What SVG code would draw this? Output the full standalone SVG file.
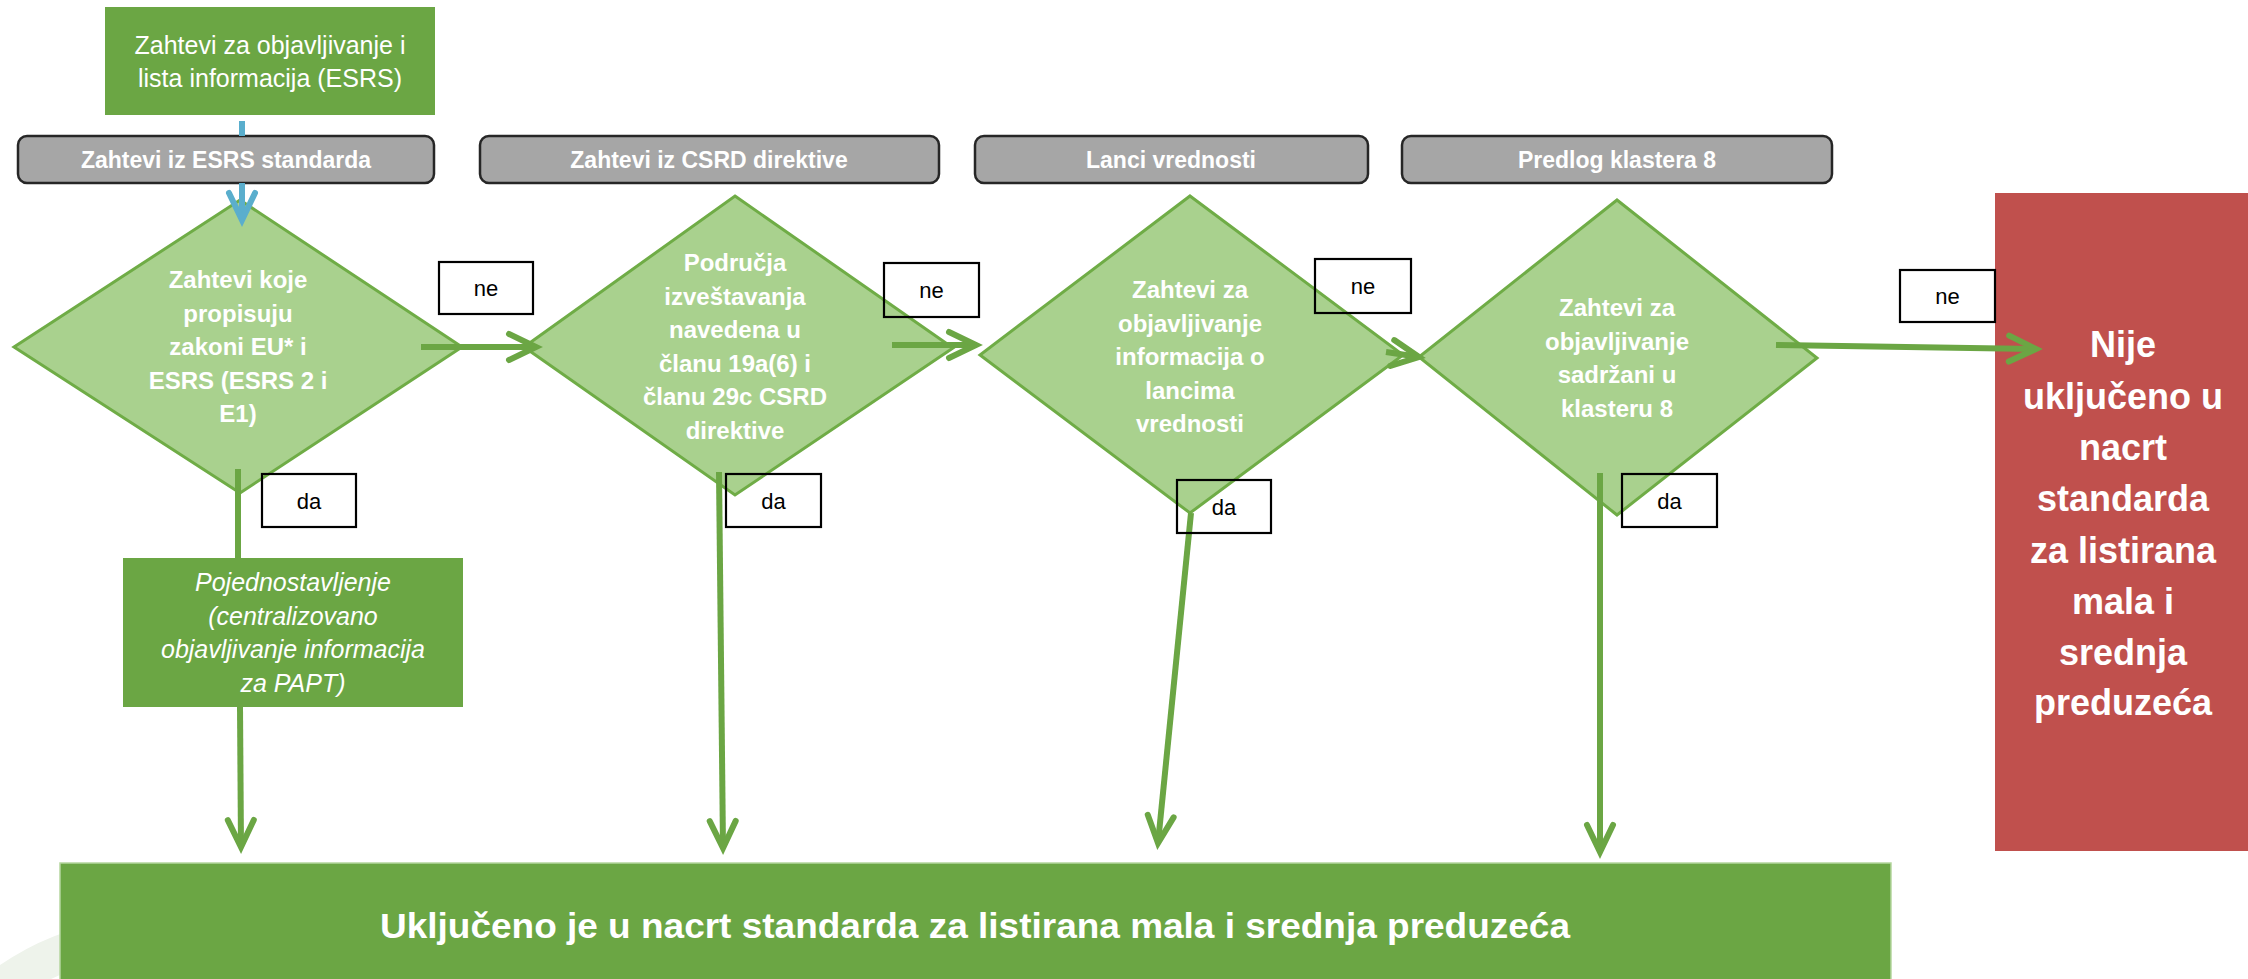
<svg xmlns="http://www.w3.org/2000/svg" width="2248" height="979" viewBox="0 0 2248 979">
  <style>
    .hdr { fill: #A6A6A6; stroke: #262626; stroke-width: 2.5; }
    .hdrt { font-family: "Liberation Sans", Arial, sans-serif; font-weight: bold; font-size: 23px; fill: #FFFFFF; text-anchor: middle; }
    .dia { fill: #A9D18E; stroke: #6FAC46; stroke-width: 3; }
    .diat { font-family: "Liberation Sans", Arial, sans-serif; font-weight: bold; font-size: 24px; fill: #FFFFFF; text-anchor: middle; }
    .gbox { fill: #6BA644; }
    .lbl { fill: none; stroke: #000000; stroke-width: 2.2; }
    .lblt { font-family: "Liberation Sans", Arial, sans-serif; font-size: 22px; fill: #000000; text-anchor: middle; }
    .con { fill: none; stroke: #6BA644; stroke-width: 6; marker-end: url(#ah); }
    .conp { fill: none; stroke: #6BA644; stroke-width: 6; }
    .blue { fill: none; stroke: #5AAECD; stroke-width: 6; }
  </style>
  <defs>
    <marker id="ah" markerUnits="userSpaceOnUse" markerWidth="50" markerHeight="50" viewBox="-40 -25 50 50" refX="0" refY="0" orient="auto" overflow="visible">
      <path d="M-27,-13 L0,0 L-27,13" fill="none" stroke="#6BA644" stroke-width="6" stroke-linecap="round" stroke-linejoin="miter"/>
    </marker>
    <marker id="ahb" markerUnits="userSpaceOnUse" markerWidth="50" markerHeight="50" viewBox="-40 -25 50 50" refX="0" refY="0" orient="auto" overflow="visible">
      <path d="M-27,-13 L0,0 L-27,13" fill="none" stroke="#5AAECD" stroke-width="6" stroke-linecap="round" stroke-linejoin="miter"/>
    </marker>
  </defs>

  <rect x="0" y="0" width="2248" height="979" fill="#FFFFFF"/>

  <!-- faint background ring -->
  <circle cx="150" cy="1180" r="243" fill="none" stroke="#EEF3EB" stroke-width="38"/>

  <g id="node-source">
    <rect class="gbox" x="105" y="7" width="330" height="108"/>
    <text x="270" y="54" font-family="Liberation Sans, Arial, sans-serif" font-size="25" fill="#FFFFFF" text-anchor="middle">Zahtevi za objavljivanje i</text>
    <text x="270" y="87" font-family="Liberation Sans, Arial, sans-serif" font-size="25" fill="#FFFFFF" text-anchor="middle">lista informacija (ESRS)</text>
  </g>

  <g id="header-esrs">
    <rect class="hdr" x="18" y="136" width="416" height="47" rx="9"/>
    <text class="hdrt" x="226" y="168">Zahtevi iz ESRS standarda</text>
  </g>
  <g id="header-csrd">
    <rect class="hdr" x="480" y="136" width="459" height="47" rx="9"/>
    <text class="hdrt" x="709" y="168">Zahtevi iz CSRD direktive</text>
  </g>
  <g id="header-lanci">
    <rect class="hdr" x="975" y="136" width="393" height="47" rx="9"/>
    <text class="hdrt" x="1171" y="168">Lanci vrednosti</text>
  </g>
  <g id="header-klaster">
    <rect class="hdr" x="1402" y="136" width="430" height="47" rx="9"/>
    <text class="hdrt" x="1617" y="168">Predlog klastera 8</text>
  </g>

  <g id="decision-1">
    <polygon class="dia" points="240,200 462,347 240,493 14,347"/>
    <text class="diat" x="238" y="288">Zahtevi koje</text>
    <text class="diat" x="238" y="321.5">propisuju</text>
    <text class="diat" x="238" y="355">zakoni EU* i</text>
    <text class="diat" x="238" y="388.5">ESRS (ESRS 2 i</text>
    <text class="diat" x="238" y="422">E1)</text>
  </g>
  <g id="decision-2">
    <polygon class="dia" points="735,196 953,348 735,495 524,347"/>
    <text class="diat" x="735" y="271">Područja</text>
    <text class="diat" x="735" y="304.5">izveštavanja</text>
    <text class="diat" x="735" y="338">navedena u</text>
    <text class="diat" x="735" y="371.5">članu 19a(6) i</text>
    <text class="diat" x="735" y="405">članu 29c CSRD</text>
    <text class="diat" x="735" y="438.5">direktive</text>
  </g>
  <g id="decision-3">
    <polygon class="dia" points="1190,196 1403,355 1190,513 980,355"/>
    <text class="diat" x="1190" y="298">Zahtevi za</text>
    <text class="diat" x="1190" y="331.5">objavljivanje</text>
    <text class="diat" x="1190" y="365">informacija o</text>
    <text class="diat" x="1190" y="398.5">lancima</text>
    <text class="diat" x="1190" y="432">vrednosti</text>
  </g>
  <g id="decision-4">
    <polygon class="dia" points="1617,200 1817,358 1617,515 1419,357"/>
    <text class="diat" x="1617" y="316">Zahtevi za</text>
    <text class="diat" x="1617" y="349.5">objavljivanje</text>
    <text class="diat" x="1617" y="383">sadržani u</text>
    <text class="diat" x="1617" y="416.5">klasteru 8</text>
  </g>

  <g id="node-simplification">
    <rect class="gbox" x="123" y="558" width="340" height="149"/>
    <text x="293" y="591" font-family="Liberation Sans, Arial, sans-serif" font-style="italic" font-size="25" fill="#FFFFFF" text-anchor="middle">Pojednostavljenje</text>
    <text x="293" y="624.5" font-family="Liberation Sans, Arial, sans-serif" font-style="italic" font-size="25" fill="#FFFFFF" text-anchor="middle">(centralizovano</text>
    <text x="293" y="658" font-family="Liberation Sans, Arial, sans-serif" font-style="italic" font-size="25" fill="#FFFFFF" text-anchor="middle">objavljivanje informacija</text>
    <text x="293" y="691.5" font-family="Liberation Sans, Arial, sans-serif" font-style="italic" font-size="25" fill="#FFFFFF" text-anchor="middle">za PAPT)</text>
  </g>

  <g id="node-included">
    <rect x="60" y="863" width="1831" height="130" fill="#6BA644" stroke="#B5D69F" stroke-width="1.5"/>
    <text x="975" y="938" font-family="Liberation Sans, Arial, sans-serif" font-weight="bold" font-size="35" fill="#FFFFFF" text-anchor="middle" textLength="1190" lengthAdjust="spacingAndGlyphs">Uključeno je u nacrt standarda za listirana mala i srednja preduzeća</text>
  </g>

  <g id="node-excluded">
    <rect x="1995" y="193" width="253" height="658" fill="#C0504D"/>
    <g font-family="Liberation Sans, Arial, sans-serif" font-weight="bold" font-size="36" fill="#FFFFFF" text-anchor="middle">
      <text x="2123" y="357">Nije</text>
      <text x="2123" y="409">uključeno u</text>
      <text x="2123" y="460">nacrt</text>
      <text x="2123" y="511">standarda</text>
      <text x="2123" y="563">za listirana</text>
      <text x="2123" y="614">mala i</text>
      <text x="2123" y="665">srednja</text>
      <text x="2123" y="715">preduzeća</text>
    </g>
  </g>

  <g id="connectors">
    <line class="blue" x1="242" y1="121" x2="242" y2="136"/>
    <line class="blue" x1="242" y1="183" x2="242" y2="220" marker-end="url(#ahb)"/>
    <line class="con" x1="421" y1="347" x2="536" y2="347"/>
    <line class="con" x1="892" y1="345" x2="976" y2="345"/>
    <line class="con" x1="1386" y1="352" x2="1419" y2="357"/>
    <line class="con" x1="1776" y1="345" x2="2036" y2="349"/>
    <line class="conp" x1="238" y1="469" x2="238" y2="558"/>
    <line class="con" x1="240" y1="707" x2="241" y2="847"/>
    <line class="con" x1="719" y1="472" x2="723" y2="848"/>
    <line class="con" x1="1191" y1="513" x2="1158" y2="843"/>
    <line class="con" x1="1600" y1="473" x2="1600" y2="852"/>
  </g>

  <g id="label-ne-1">
    <rect class="lbl" x="439" y="262" width="94" height="52"/>
    <text class="lblt" x="486" y="296">ne</text>
  </g>
  <g id="label-ne-2">
    <rect class="lbl" x="884" y="263" width="95" height="54"/>
    <text class="lblt" x="931.5" y="298">ne</text>
  </g>
  <g id="label-ne-3">
    <rect class="lbl" x="1315" y="259" width="96" height="54"/>
    <text class="lblt" x="1363" y="294">ne</text>
  </g>
  <g id="label-ne-4">
    <rect class="lbl" x="1900" y="270" width="95" height="52"/>
    <text class="lblt" x="1947.5" y="304">ne</text>
  </g>
  <g id="label-da-1">
    <rect class="lbl" x="262" y="474" width="94" height="53"/>
    <text class="lblt" x="309" y="509">da</text>
  </g>
  <g id="label-da-2">
    <rect class="lbl" x="726" y="474" width="95" height="53"/>
    <text class="lblt" x="773.5" y="509">da</text>
  </g>
  <g id="label-da-3">
    <rect class="lbl" x="1177" y="480" width="94" height="53"/>
    <text class="lblt" x="1224" y="515">da</text>
  </g>
  <g id="label-da-4">
    <rect class="lbl" x="1622" y="474" width="95" height="53"/>
    <text class="lblt" x="1669.5" y="509">da</text>
  </g>
</svg>
